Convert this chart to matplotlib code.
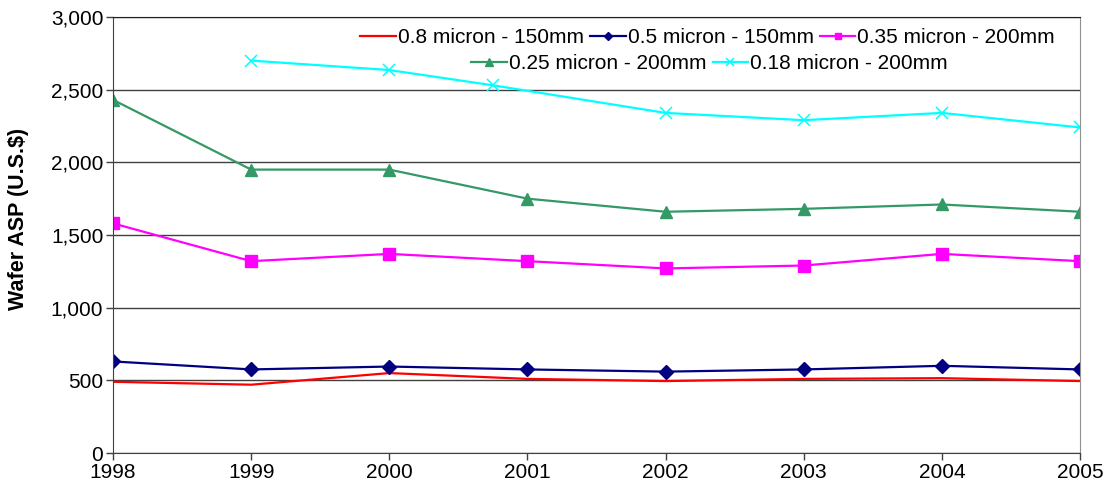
import matplotlib.pyplot as plt
import matplotlib.ticker as mticker

plt.rcParams['font.family'] = ['Liberation Sans', 'DejaVu Sans']

# wafer average selling price per technology node, U.S.$
years = [1998, 1999, 2000, 2001, 2002, 2003, 2004, 2005]
asp_08 = [490, 470, 550, 510, 495, 510, 515, 495]
asp_05 = [630, 575, 595, 575, 560, 575, 600, 575]
asp_035 = [1580, 1320, 1370, 1320, 1270, 1290, 1370, 1320]
asp_025 = [2430, 1950, 1950, 1750, 1660, 1680, 1710, 1660]
years_018 = [1999, 2000, 2000.75, 2002, 2003, 2004, 2005]
asp_018 = [2700, 2635, 2530, 2340, 2290, 2340, 2240]

fig = plt.figure(figsize=(11.06, 4.87), dpi=100)
ax = fig.add_axes([0.1022, 0.0698, 0.8743, 0.8953])

l1, = ax.plot(years, asp_08, color='#ff0000', lw=1.6, label='0.8 micron - 150mm')
l2, = ax.plot(years, asp_05, color='#000080', lw=1.6, marker='D', ms=7,
              label='0.5 micron - 150mm')
l3, = ax.plot(years, asp_035, color='#ff00ff', lw=1.6, marker='s', ms=8,
              label='0.35 micron - 200mm')
l4, = ax.plot(years, asp_025, color='#339966', lw=1.6, marker='^', ms=9,
              label='0.25 micron - 200mm')
l5, = ax.plot(years_018, asp_018, color='#00ffff', lw=1.6, marker='x', ms=9,
              mew=1.1, label='0.18 micron - 200mm')

ax.set_xlim(1998, 2005)
ax.set_ylim(0, 3000)
ax.set_xticks(years)
ax.set_yticks(range(0, 3001, 500))
ax.yaxis.set_major_formatter(mticker.StrMethodFormatter('{x:,.0f}'))
ax.tick_params(labelsize=15, length=5, color='#404040', width=1, pad=2)
ax.grid(axis='y', color='#404040', lw=1)
ax.set_axisbelow(True)
for side in ['left', 'bottom']:
    ax.spines[side].set_color('#404040')
ax.spines['top'].set_color('#202020')
ax.spines['right'].set_color('#909090')

fig.text(0.017, 0.55, 'Wafer ASP (U.S.$)', fontsize=15.5, fontweight='bold',
         rotation=90, ha='center', va='center')

# legend in two centred rows
leg_kw = dict(frameon=False, fontsize=15, handlelength=1.7, handletextpad=0.1,
              columnspacing=0.3, markerscale=0.6, borderpad=0, loc='center')
leg1 = ax.legend([l1, l2, l3], [l.get_label() for l in (l1, l2, l3)], ncol=3,
                 bbox_to_anchor=(0.615, 0.953), **leg_kw)
ax.add_artist(leg1)
ax.legend([l4, l5], [l.get_label() for l in (l4, l5)], ncol=2,
          bbox_to_anchor=(0.617, 0.893), **leg_kw)

fig.savefig('out.png', dpi=100)
